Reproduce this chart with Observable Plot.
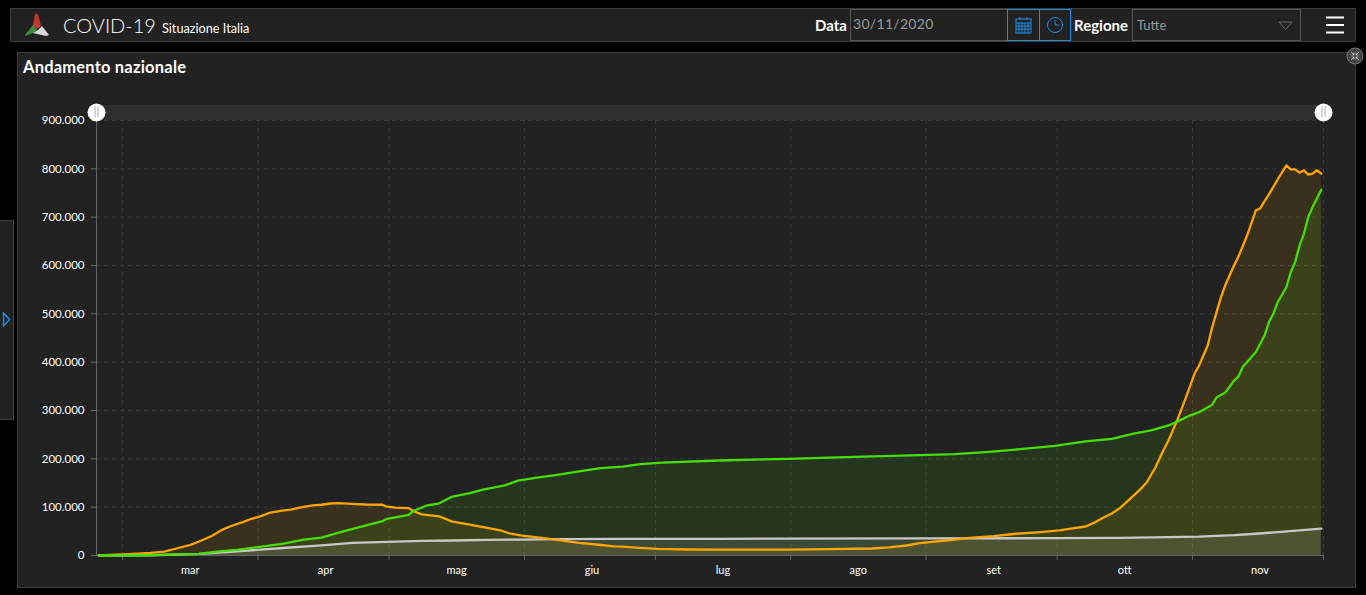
<!DOCTYPE html>
<html lang="it">
<head>
<meta charset="utf-8">
<title>COVID-19 Situazione Italia</title>
<script src="https://cdn.jsdelivr.net/npm/d3@7"></script>
<script src="https://cdn.jsdelivr.net/npm/@observablehq/plot@0.6"></script>
<style>
html,body{margin:0;padding:0;background:#000;width:1366px;height:595px;overflow:hidden;font-family:Lato,sans-serif;color:#fff}
.box{position:absolute;box-sizing:border-box;background:#222;border:1px solid #3d3d3d}
.t{position:absolute;white-space:nowrap;line-height:1}
#chart{position:absolute;left:0;top:0}
#chart svg{display:block;background:transparent}
.field{position:absolute;box-sizing:border-box;border:1px solid #555;height:32px;top:9px}
.btn{position:absolute;box-sizing:border-box;border:1px solid #1c8ee8;width:33px;height:32px;top:9px}
</style>
</head>
<body>
<div class="box" style="left:10px;top:8px;width:1346px;height:34px"></div>
<div class="box" style="left:17px;top:52px;width:1339px;height:536px"></div>
<div class="box" style="left:-1px;top:220px;width:15px;height:200px"></div>

<svg style="position:absolute;left:24px;top:13px" width="26" height="24" viewBox="0 0 26 24">
  <path d="M11 1h3l3 12 -4 3 -4-3z" fill="#c0392f"/>
  <path d="M1 22l8-10 4 5 -4 3 -8 3z" fill="#3f8f3f"/>
  <path d="M9 20l5-3 4-4 7 9 -3 1z" fill="#d8d8d8"/>
</svg>
<div class="t" style="left:63px;top:15px;font-size:20px;font-weight:300">COVID-19</div>
<div class="t" style="left:162px;top:22px;font-size:12.700px">Situazione Italia</div>

<div class="t" style="left:815px;top:18px;font-size:15px;font-weight:700">Data</div>
<div class="field" style="left:850px;width:158px"></div>
<div class="t" style="left:853px;top:17px;font-size:14px;color:#999;letter-spacing:.3px">30/11/2020</div>
<div class="btn" style="left:1007px"><svg width="31" height="30" viewBox="0 0 31 30"><g stroke="#1c8ee8" fill="none"><rect x="8" y="9" width="15" height="14"/><path d="M8 13h15M8 16h15M8 19h15M11 13v10M14 13v10M17 13v10M20 13v10M12 7v3M19 7v3"/></g></svg></div>
<div class="btn" style="left:1039px;width:32px"><svg width="30" height="30" viewBox="0 0 30 30"><g stroke="#1c8ee8" fill="none"><circle cx="15" cy="15" r="7.5"/><path d="M15 10v5h4"/></g></svg></div>
<div class="t" style="left:1074px;top:18px;font-size:15px;font-weight:700">Regione</div>
<div class="field" style="left:1132px;width:169px"></div>
<div class="t" style="left:1137px;top:19px;font-size:13px;color:#999">Tutte</div>
<svg style="position:absolute;left:1278px;top:21px" width="16" height="10"><path d="M1 1h13l-6.500 7.500z" fill="none" stroke="#666"/></svg>
<svg style="position:absolute;left:1326px;top:16px" width="18" height="18"><path d="M0 1.500h18M0 9h18M0 16.500h18" stroke="#fff" stroke-width="2"/></svg>
<svg style="position:absolute;left:1346px;top:47px" width="18" height="18"><circle cx="9" cy="9" r="8" fill="#444" stroke="#777"/><path d="M5 5l3 3M8 5.500v2.500h-2.500M13 5l-3 3M10 5.500v2.500h2.500M5 13l3-3M8 12.500v-2.500h-2.500M13 13l-3-3M10 12.500v-2.500h2.500" stroke="#ccc" fill="none" stroke-width=".8"/></svg>
<svg style="position:absolute;left:2px;top:312px" width="10" height="15"><path d="M1.500 1l6 6.500 -6 6.500z" fill="none" stroke="#1c8ee8" stroke-width="1.500"/></svg>
<div class="t" style="left:23px;top:59px;font-size:16.500px;font-weight:700;letter-spacing:.2px">Andamento nazionale</div>

<div id="chart"></div>

<script>
// Days counted from 24 Feb 2020; values in thousands of people.
const orangeDays = [
  0,8,12,15,18,21,23,26,28,30,
  33,35,37,39,42,44,46,49,51,53,
  55,58,61,65,66,68,71,72,74,78,
  81,85,89,92,94,97,101,105,110,114,
  118,120,123,128,135,142,158,167,177,181,
  185,188,194,200,205,210,215,220,223,226,
  228,230,232,234,237,239,240,242,244,245,
  247,249,251,252,254,255,257,258,260,261,
  263,265,266,267,268,270,272,273,274,275,
  276,277,278,279,280];
const orangeValues = [
  0.2,3.5,5.5,8,15,22,29,41,52,60,
  69,76,81,88,93,95,99,103.5,105,107.6,
  108.2,107,105.5,105,101,99,98,92,85,81,
  70,64,57,52,46,41,37,32.5,26,22.8,
  19,18.5,16.5,13.8,12.4,12,12,13,14.5,17,
  20.7,25.5,31,37,40,45,48,52,56,60,
  68,78,87,99,124,141,151,182,221,238,
  280,327,377,393,435,472,534,559,600,618,
  662,714,718,733,747,778,807,799,799,792,
  797,788,790,797,790];
const greenDays = [
  0,10,23,27,32,36,42,47,51,56,
  61,65,66,71,72,75,78,81,85,88,
  93,96,100,105,110,115,120,124,129,142,
  158,173,188,196,204,211,219,226,232,237,
  241,245,247,250,252,255,256,258,260,261,
  262,265,267,268,269,270,272,273,274,275,
  276,277,278,279,280];
const greenValues = [
  0,0.5,3.5,8,12,17,24,33,37,50,
  62,71,76,84,92,103,108,122,129,136.5,
  145,155,160.7,167,174,180.6,184,189,192,196.6,
  200,204,207.5,209.6,214.6,220,227,236,241.5,252,
  259,269,277,290,296.5,312,327,337,362,370,
  390,421,455,483,500,524,555,586,607,641,
  665,700,721,739,757];
const grayDays = [
  0,12,23,31,37,43,51,58,66,74,
  81,89,97,104,120,142,188,219,234,245,
  252,260,265,270,275,280];
const grayValues = [
  0,0.3,3.5,8,12,16,21,26,28.3,30.4,
  31,32.5,33,33.7,34.2,34.6,35.3,35.9,36.5,38,
  39,42,45,48.5,52,55.5];

const yTicks = [0,100000,200000,300000,400000,500000,600000,700000,800000,900000];
const monthLabels = ["mar","apr","mag","giu","lug","ago","set","ott","nov"];
const monthStarts = [2,3,4,5,6,7,8,9,10,11].map(m => new Date(Date.UTC(2020,m,1)));
const monthMids = [2,3,4,5,6,7,8,9,10].map(m => new Date(Date.UTC(2020,m,16)));
const xDomain = [new Date(Date.UTC(2020,1,24)), new Date(Date.UTC(2020,11,1))];

const toDate = n => new Date(Date.UTC(2020,1,24,12) + n*864e5);
const series = (days, values) => days.map((n,i) => ({date: toDate(n), value: values[i]*1000}));
const orange = series(orangeDays, orangeValues);
const green = series(greenDays, greenValues);
const gray = series(grayDays, grayValues);

const ORANGE="#ffa500", GREEN="#46de00", GRAY="#c8c8c8";
const dash = {stroke:"#393939", strokeOpacity:1, strokeDasharray:"4 4"};
const fmt = d => d3.format(",")(d).replace(/,/g,".");

const plot = Plot.plot({
  width:1366, height:595,
  marginLeft:96, marginRight:43, marginTop:120, marginBottom:40,
  style:{background:"transparent", fontFamily:"Lato, sans-serif", color:"#fff"},
  x:{type:"utc", domain:xDomain},
  y:{domain:[0,900000]},
  marks:[
    Plot.ruleY([900000],{stroke:"#2f2f2f", strokeWidth:15, dy:-8}),
    Plot.gridY(yTicks.slice(1), dash),
    Plot.gridX(monthStarts, dash),
    Plot.areaY(orange,{x:"date", y:"value", fill:ORANGE, fillOpacity:.11}),
    Plot.areaY(green,{x:"date", y:"value", fill:GREEN, fillOpacity:.11}),
    Plot.areaY(gray,{x:"date", y:"value", fill:GRAY, fillOpacity:.14}),
    Plot.ruleX([xDomain[0]],{stroke:"#666"}),
    Plot.ruleY([0],{stroke:"#666", insetLeft:-5}),
    Plot.axisY(yTicks,{anchor:"left", label:null, tickSize:5, tickPadding:7, tickFormat:fmt, stroke:"#666", fill:"#fff", fontSize:11.5}),
    Plot.axisX(monthStarts,{anchor:"bottom", label:null, tickSize:5, tickFormat:()=>"", stroke:"#666"}),
    Plot.axisX(monthMids,{anchor:"bottom", label:null, tickSize:0, tickPadding:11, dx:2, tickFormat:d=>monthLabels[d.getUTCMonth()-2], fill:"#fff", fontSize:11}),
    Plot.lineY(gray,{x:"date", y:"value", stroke:GRAY, strokeWidth:2.3}),
    Plot.lineY(orange,{x:"date", y:"value", stroke:ORANGE, strokeWidth:2.3}),
    Plot.lineY(green,{x:"date", y:"value", stroke:GREEN, strokeWidth:2.3}),
    Plot.dot(xDomain,{x:d=>d, y:()=>900000, dy:-8, r:9, fill:"#fff", stroke:"none"}),
    Plot.ruleX(xDomain,{x:d=>d, y1:()=>904000, y2:()=>926000, dy:-1, dx:-1.500, stroke:"#aaa"}),
    Plot.ruleX(xDomain,{x:d=>d, y1:()=>904000, y2:()=>926000, dy:-1, dx:1.500, stroke:"#aaa"})
  ]
});
document.getElementById("chart").appendChild(plot);
</script>
</body>
</html>
